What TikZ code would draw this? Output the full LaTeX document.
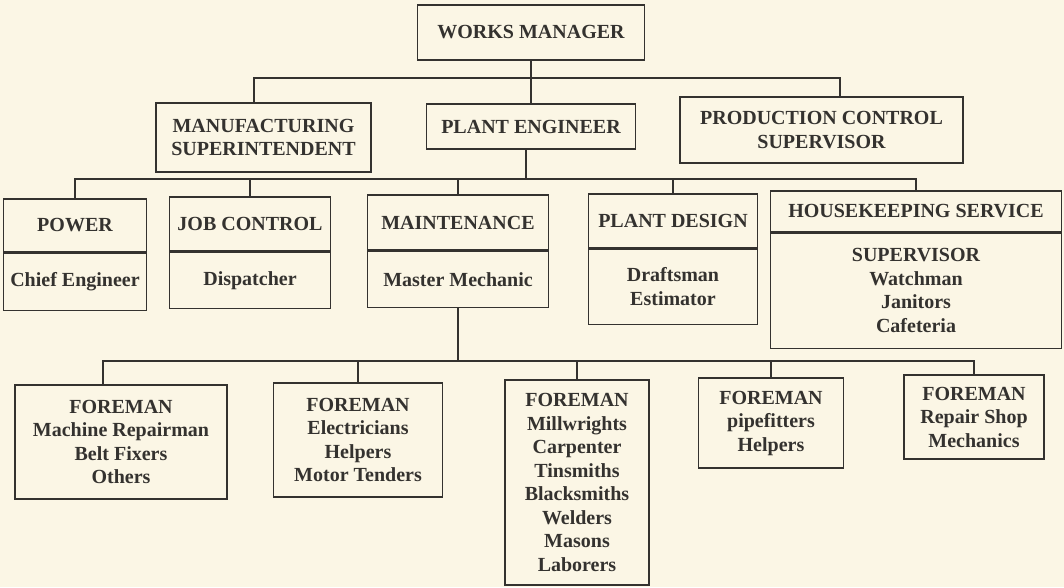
\documentclass[tikz,border=0pt]{standalone}
\usepackage{fontspec}
\setmainfont{Liberation Serif}
\usetikzlibrary{positioning}
\definecolor{paper}{RGB}{251,246,229}
\definecolor{ink}{RGB}{52,50,47}
\tikzset{
  unit/.style={draw=ink, line width=1.2pt, text=ink, align=center, inner sep=0pt,
    font=\bfseries\fontsize{20}{23.5}\selectfont},
  link/.style={draw=ink, line width=1.2pt},
}
\begin{document}
\begin{tikzpicture}[x=1pt, y=-1pt]
  \fill[paper] (0,0) rectangle (1064,587);
  \useasboundingbox (0,0) rectangle (1064,587);
  % top
  \node[unit, minimum width=227pt, minimum height=55pt] (wm) at (531,32.5) {WORKS MANAGER};
  \node[unit, minimum width=215pt, minimum height=69pt] (ms) at (263.5,137.5) {MANUFACTURING\\SUPERINTENDENT};
  \node[unit, minimum width=209pt, minimum height=45pt] (pe) at (531,126.5) {PLANT ENGINEER};
  \node[unit, minimum width=283pt, minimum height=66pt] (pcs) at (821.5,130) {PRODUCTION CONTROL\\SUPERVISOR};
  % departments
  \node[unit, minimum width=143pt, minimum height=53pt] (power) at (75,225.5) {POWER};
  \node[unit, minimum width=143pt, minimum height=57pt, below=0pt of power] (powerx) {Chief Engineer};
  \node[unit, minimum width=161pt, minimum height=54pt] (jc) at (250,224) {JOB CONTROL};
  \node[unit, minimum width=161pt, minimum height=56pt, below=0pt of jc] (jcx) {Dispatcher};
  \node[unit, minimum width=181pt, minimum height=55pt] (maint) at (458,222.5) {MAINTENANCE};
  \node[unit, minimum width=181pt, minimum height=56pt, below=0pt of maint] (maintx) {Master Mechanic};
  \node[unit, minimum width=169pt, minimum height=54pt] (pd) at (673,221) {PLANT DESIGN};
  \node[unit, minimum width=169pt, minimum height=75pt, below=0pt of pd] (pdx) {Draftsman\\Estimator};
  \node[unit, minimum width=291pt, minimum height=41pt] (hk) at (916,211.5) {HOUSEKEEPING SERVICE};
  \node[unit, minimum width=291pt, minimum height=115pt, below=0pt of hk] (hkx) {SUPERVISOR\\Watchman\\Janitors\\Cafeteria};
  % foremen
  \node[unit, minimum width=212pt, minimum height=114pt] (f1) at (121,442) {FOREMAN\\Machine Repairman\\Belt Fixers\\Others};
  \node[unit, minimum width=169pt, minimum height=114pt] (f2) at (358,440) {FOREMAN\\Electricians\\Helpers\\Motor Tenders};
  \node[unit, minimum width=144pt, minimum height=205pt] (f3) at (577,482.5) {FOREMAN\\Millwrights\\Carpenter\\Tinsmiths\\Blacksmiths\\Welders\\Masons\\Laborers};
  \node[unit, minimum width=145pt, minimum height=90pt] (f4) at (771,423) {FOREMAN\\pipefitters\\Helpers};
  \node[unit, minimum width=140pt, minimum height=84pt] (f5) at (974,417) {FOREMAN\\Repair Shop\\Mechanics};
  % buses
  \coordinate (bus1) at (531,78);
  \coordinate (bus2) at (526,179);
  \coordinate (bus3) at (458,361);
  \draw[link] (wm) -- (pe);
  \draw[link] ([xshift=-9.5pt]ms.north) |- (bus1) -| ([xshift=18.5pt]pcs.north);
  \draw[link] ([xshift=-5pt]pe.south) -- (bus2);
  \draw[link] (power) |- (bus2) -| (hk);
  \draw[link] (jc) -- (jc |- bus2);
  \draw[link] (maint) -- (maint |- bus2);
  \draw[link] (pd) -- (pd |- bus2);
  \draw[link] (maintx) -- (bus3);
  \draw[link] ([xshift=-18pt]f1.north) |- (bus3) -| (f5);
  \draw[link] (f2) -- (f2 |- bus3);
  \draw[link] (f3) -- (f3 |- bus3);
  \draw[link] (f4) -- (f4 |- bus3);
\end{tikzpicture}
\end{document}
